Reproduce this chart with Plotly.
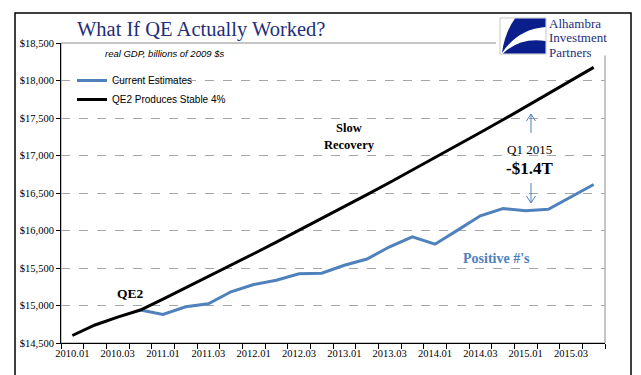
import plotly.graph_objects as go

# ---- data ----
quarters = ["2010.01", "2010.02", "2010.03", "2010.04",
            "2011.01", "2011.02", "2011.03", "2011.04",
            "2012.01", "2012.02", "2012.03", "2012.04",
            "2013.01", "2013.02", "2013.03", "2013.04",
            "2014.01", "2014.02", "2014.03", "2014.04",
            "2015.01", "2015.02", "2015.03", "2015.04"]
tick_labels = ["2010.01", "", "2010.03", "", "2011.01", "", "2011.03", "",
               "2012.01", "", "2012.03", "", "2013.01", "", "2013.03", "",
               "2014.01", "", "2014.03", "", "2015.01", "", "2015.03", ""]
current_estimates = [None, None, None, 14940, 14880, 14983, 15023, 15183,
                     15280, 15337, 15422, 15431, 15537, 15620, 15783, 15916,
                     15817, 16005, 16196, 16293, 16263, 16284, 16449, 16613]
qe2_stable_4pct = [14600, 14740, 14845, 14940, 15086, 15235, 15385, 15537,
                   15690, 15844, 16000, 16158, 16317, 16478, 16640, 16804,
                   16970, 17137, 17306, 17476, 17649, 17823, 17998, 18175]
y_ticks = [14500, 15000, 15500, 16000, 16500, 17000, 17500, 18000, 18500]
y_tick_labels = ["$14,500", "$15,000", "$15,500", "$16,000", "$16,500",
                 "$17,000", "$17,500", "$18,000", "$18,500"]

# ---- layout geometry (pixels -> paper) ----
W, H = 641, 375
ML, MR, MT, MB = 53, 44, 35, 40
PW, PH = W - ML - MR, H - MT - MB


def px(x):
    return (x - ML) / PW


def py(y):
    return (H - MB - y) / PH


BLUE = "#4F81BD"
NAVY = "#1F2E7A"
SERIF = "Liberation Serif"
SANS = "Liberation Sans"

fig = go.Figure()
fig.add_trace(go.Scatter(x=quarters, y=current_estimates, mode="lines",
                         name="Current Estimates",
                         line=dict(color=BLUE, width=3)))
fig.add_trace(go.Scatter(x=quarters, y=qe2_stable_4pct, mode="lines",
                         name="QE2 Produces Stable 4%",
                         line=dict(color="black", width=3)))

shapes = []
# plot area border (grey, top/right)
shapes.append(dict(type="rect", xref="paper", yref="paper", x0=0, x1=1, y0=0, y1=1,
                   line=dict(color="#8C8C8C", width=1), layer="between"))
# logo white background
shapes.append(dict(type="rect", xref="paper", yref="paper",
                   x0=px(488), x1=px(620), y0=py(47.5), y1=py(8),
                   fillcolor="white", line=dict(width=0), layer="above"))
# logo square
shapes.append(dict(type="rect", xref="paper", yref="paper",
                   x0=px(492), x1=px(538), y0=py(46), y1=py(10),
                   fillcolor="white", line=dict(color="#C8C8C8", width=1), layer="above"))


def path(points_cmds):
    out = []
    for c, pts in points_cmds:
        s = c
        s += " ".join(f"{px(a):.5f},{py(b):.5f}" for a, b in pts)
        out.append(s)
    return " ".join(out) + " Z"


shapes.append(dict(type="path", xref="paper", yref="paper", layer="above",
                   path=path([("M", [(507, 10.5)]), ("L", [(537.5, 10.5)]), ("L", [(537.5, 19)]),
                              ("Q", [(510, 21), (494, 45)]), ("Q", [(497, 24), (507, 10.5)])]),
                   fillcolor="#0A1E8C", line=dict(width=0)))
shapes.append(dict(type="path", xref="paper", yref="paper", layer="above",
                   path=path([("M", [(495, 45.5)]), ("Q", [(512, 29), (537.5, 33)]),
                              ("L", [(537.5, 45.5)])]),
                   fillcolor="#0A1E8C", line=dict(width=0)))
# annotation arrows
for tail, head in [((523, 125), (523, 106)), ((523, 175), (523, 195))]:
    d = 1 if head[1] > tail[1] else -1
    p = (f"M {px(tail[0]):.5f},{py(tail[1]):.5f} L {px(head[0]):.5f},{py(head[1]):.5f} "
         f"M {px(head[0]-4.5):.5f},{py(head[1]-7*d):.5f} L {px(head[0]):.5f},{py(head[1]):.5f} "
         f"L {px(head[0]+4.5):.5f},{py(head[1]-7*d):.5f}")
    shapes.append(dict(type="path", xref="paper", yref="paper", path=p,
                       line=dict(color=BLUE, width=1), layer="above"))
# outer chart border
shapes.append(dict(type="rect", xref="paper", yref="paper",
                   x0=px(7), x1=px(623), y0=py(372), y1=py(5),
                   line=dict(color="black", width=1.5), layer="above"))

annotations = []


def txt(x, y, text, size, color="black", family=SERIF, xanchor="center", height=None):
    a = dict(x=px(x), y=py(y), xref="paper", yref="paper", text=text,
             showarrow=False, xanchor=xanchor, yanchor="middle",
             font=dict(family=family, size=size, color=color))
    if height:
        a["height"] = height
    annotations.append(a)


txt(193, 21, "What If QE Actually Worked?", 20.5, NAVY)
txt(95, 46, "<i>real GDP, billions of 2009 $s</i>", 9.5, "black", SANS, "left")
txt(122, 285, "<b>QE2</b>", 13.5)
txt(341, 120, "<b>Slow</b>", 12.5)
txt(341, 137, "<b>Recovery</b>", 12.5)
txt(521, 141, "Q1 2015", 13)
txt(521, 160, "<b>-$1.4T</b>", 17)
txt(488, 250, "<b>Positive #'s</b>", 14, BLUE)
txt(539, 15, "Alhambra", 13, NAVY, SERIF, "left", 12)
txt(539, 29, "Investment", 13, NAVY, SERIF, "left", 12)
txt(539, 43.5, "Partners", 13, NAVY, SERIF, "left", 12)

fig.update_layout(
    width=W, height=H,
    margin=dict(l=ML, r=MR, t=MT, b=MB),
    paper_bgcolor="white", plot_bgcolor="white",
    showlegend=True,
    legend=dict(x=px(64), y=py(58), xanchor="left", yanchor="top",
                bgcolor="rgba(0,0,0,0)", font=dict(family=SANS, size=10, color="black"),
                tracegroupgap=0, itemwidth=30),
    xaxis=dict(type="category", tickmode="array", tickvals=quarters, ticktext=tick_labels,
               tickson="boundaries", ticks="outside", ticklen=5, tickcolor="black",
               showline=True, linecolor="black", linewidth=1, showgrid=False,
               tickangle=0, tickfont=dict(family=SERIF, size=10.5, color="black"),
               range=[-0.5, 23.5]),
    yaxis=dict(range=[14500, 18500], tickmode="array", tickvals=y_ticks,
               ticktext=y_tick_labels, ticks="outside", ticklen=4,
               tickcolor="black", showline=True, linecolor="black", linewidth=1,
               showgrid=True, gridcolor="#A6A6A6", griddash="dash", gridwidth=1,
               zeroline=False, tickfont=dict(family=SERIF, size=10.5, color="black")),
    shapes=shapes,
    annotations=annotations,
)

fig.write_html("out.html")
